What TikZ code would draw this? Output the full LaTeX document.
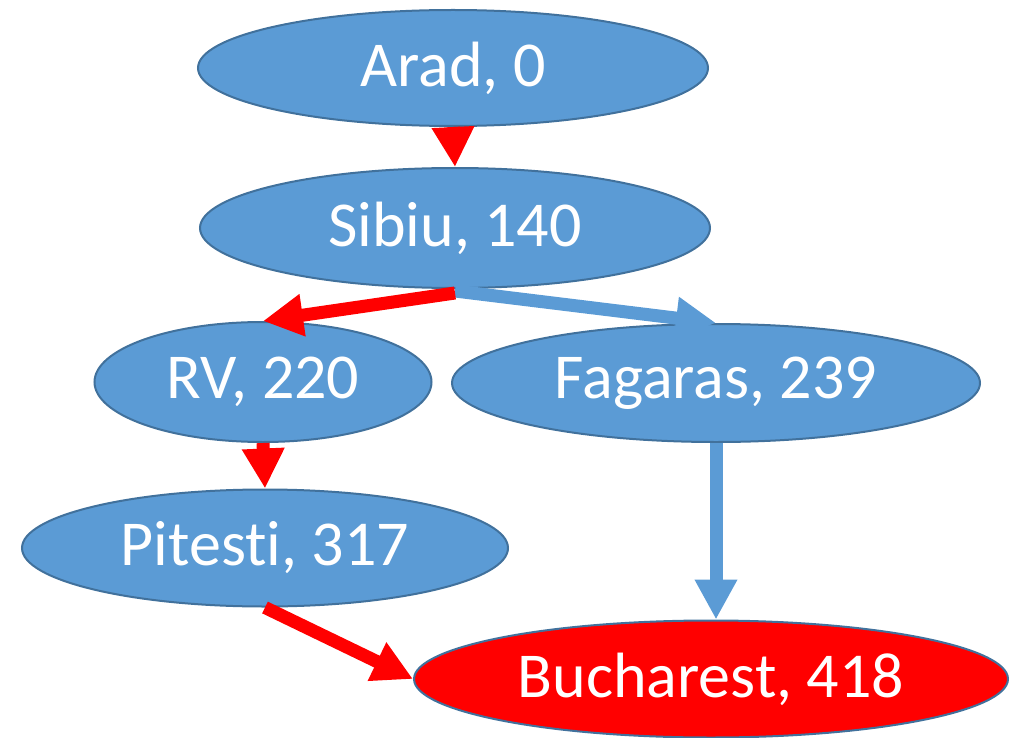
\documentclass[tikz,border=0pt]{standalone}
\usepackage{fontspec}
\setmainfont{Carlito}[Ligatures=NoCommon]
\usetikzlibrary{shapes.geometric,arrows.meta}
\definecolor{nodeblue}{HTML}{5B9BD5}
\definecolor{edgeblue}{HTML}{41719C}
\definecolor{pathred}{HTML}{FF0000}
\begin{document}
\begin{tikzpicture}[x=1pt,y=-1pt,
  city/.style={ellipse,draw=edgeblue,line width=2pt,fill=nodeblue,inner sep=0pt,
    text=white,font=\fontsize{64}{76}\selectfont},
  goal/.style={city,fill=pathred},
  conn/.style={line width=13pt,-{Triangle[width=40pt,length=40pt]}},
  redconn/.style={conn,draw=pathred},
  blueconn/.style={conn,draw=nodeblue}]
\useasboundingbox (0,0) rectangle (1014,738);
\node[city,minimum width=510pt,minimum height=116pt] (arad) at (453,68) {Arad, 0};
\node[city,minimum width=510pt,minimum height=120pt] (sibiu) at (455,228) {Sibiu, 140};
\node[city,minimum width=337pt,minimum height=120pt] (rv) at (263,382) {RV, 220};
\node[city,minimum width=528pt,minimum height=118pt] (fagaras) at (716,383) {Fagaras, 239};
\node[city,minimum width=486pt,minimum height=117pt] (pitesti) at (265,548) {Pitesti, 317};
\node[goal,minimum width=594pt,minimum height=117pt] (bucharest) at (711,679) {Bucharest, 418};
\draw[redconn] (arad.south) -- (sibiu.north);
\draw[blueconn] ([yshift=-2pt]sibiu.south) -- (fagaras.north);
\draw[redconn] ([yshift=-4pt]sibiu.south) -- (rv.north);
\draw[redconn] (rv.south) -- (pitesti.north);
\draw[blueconn] (fagaras.south) -- (fagaras.south |- bucharest.north);
\draw[redconn] (pitesti.south) -- (bucharest.west);
\end{tikzpicture}
\end{document}
